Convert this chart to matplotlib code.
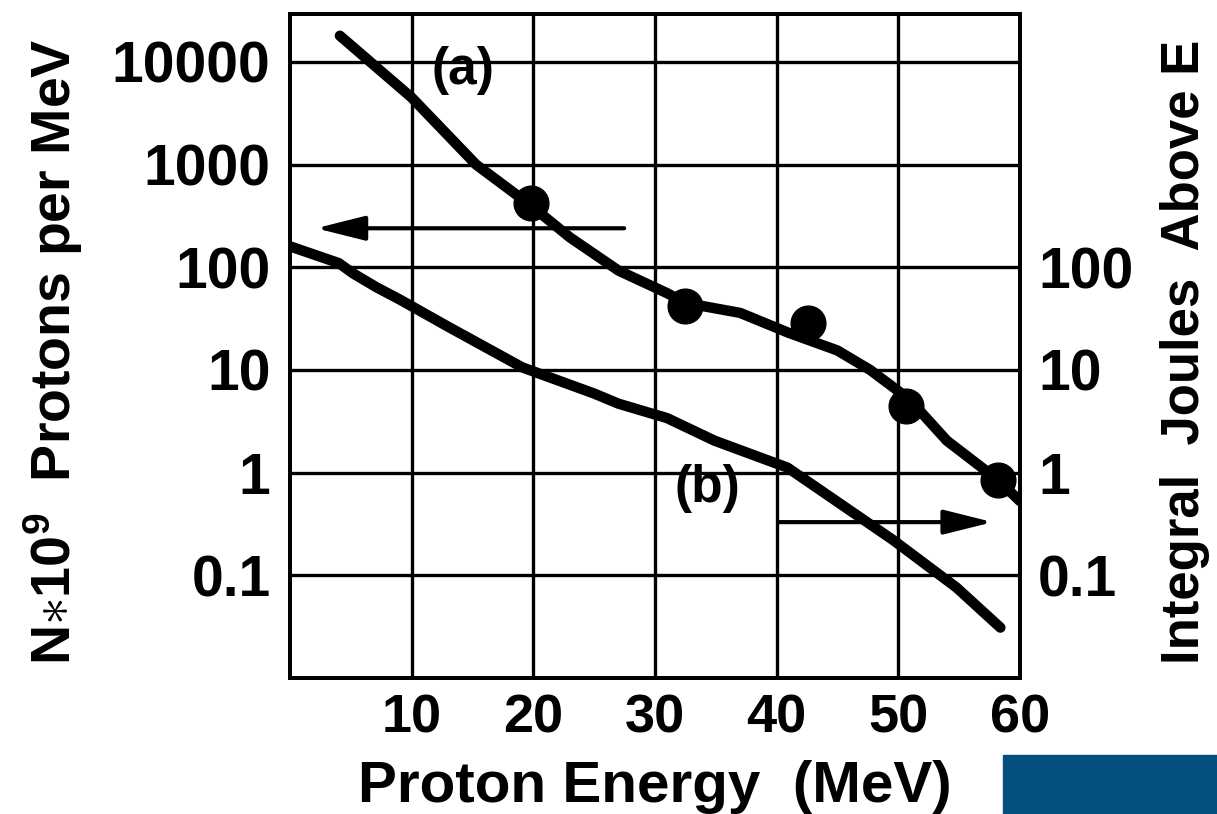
import matplotlib.pyplot as plt
import matplotlib.patches as mpatches

plt.rcParams['font.family'] = ['Liberation Sans', 'DejaVu Sans']
plt.rcParams['font.weight'] = 'bold'
plt.rcParams['mathtext.fontset'] = 'custom'
plt.rcParams['mathtext.rm'] = 'Liberation Sans:bold'
plt.rcParams['mathtext.it'] = 'Liberation Sans:bold'
plt.rcParams['mathtext.bf'] = 'Liberation Sans:bold'

# curve (a): protons per MeV (left axis)
energy_a = [4.1, 10, 15.3, 19.8, 23, 27, 31, 32.5, 37, 41, 45, 47.7, 50.9, 54, 58.2, 60]
protons_a = [18000, 4500, 1000, 400, 196, 93, 56, 45, 36, 23, 15.5, 10, 5.2, 2.05, 0.85, 0.53]

# measured points on curve (a)
point_energy = [19.8, 32.5, 42.6, 50.6, 58.2]
point_protons = [420, 42, 29, 4.5, 0.85]

# curve (b): integral joules above E (right axis)
energy_b = [0, 4.0, 5.2, 7.1, 9.1, 13.1, 19.1, 25, 27, 31, 34.9, 40.9, 44.9, 49.6, 54.8, 58.4]
joules_b = [160, 110, 87, 64, 48, 26, 10.6, 5.9, 4.7, 3.4, 2.05, 1.12, 0.53, 0.22, 0.076, 0.031]

x_ticks = [10, 20, 30, 40, 50, 60]
left_ticks = [10000, 1000, 100, 10, 1, 0.1]
left_labels = ['10000', '1000', '100', '10', '1', '0.1']
right_ticks = [100, 10, 1, 0.1]
right_labels = ['100', '10', '1', '0.1']

fig = plt.figure(figsize=(12.17, 8.14), dpi=100)
ax = fig.add_axes([0.2383, 0.167, 0.5997, 0.816])
ax.set_yscale('log')
ax.set_xlim(0, 60)
ax.set_ylim(0.01, 29400)

# grid
for xv in x_ticks[:-1]:
    ax.axvline(xv, color='black', lw=2.4, zorder=1)
for yv in left_ticks:
    ax.axhline(yv, color='black', lw=2.4, zorder=1)

ax.plot(energy_a, protons_a, color='black', lw=7.5, solid_capstyle='round', zorder=3)
ax.plot(energy_b, joules_b, color='black', lw=7.5, solid_capstyle='round', zorder=3)
ax.plot(point_energy, point_protons, 'o', color='black', ms=25, zorder=4)

# axis arrows
arrow_style = dict(arrowstyle='-|>,head_length=3.0,head_width=0.75', color='black', lw=3)
ax.annotate('', xy=(1.9, 240), xytext=(27.7, 240), arrowprops=arrow_style)
ax.annotate('', xy=(58.0, 0.33), xytext=(39.9, 0.33), arrowprops=arrow_style)

ax.text(14.2, 8300, '(a)', fontsize=37, fontweight='bold', ha='center', va='center')
ax.text(34.3, 0.7, '(b)', fontsize=37, fontweight='bold', ha='center', va='center')

for s in ax.spines.values():
    s.set_linewidth(2.8)

ax.set_xticks(x_ticks)
ax.set_xticklabels([str(v) for v in x_ticks], fontsize=39, fontweight='bold')
ax.set_yticks(left_ticks)
ax.set_yticklabels(left_labels, fontsize=41, fontweight='bold')
ax.minorticks_off()
ax.tick_params(axis='x', length=0, pad=11)
ax.tick_params(axis='y', length=0, pad=14)
ax.set_xlabel('Proton Energy  (MeV)', fontsize=42, fontweight='bold', labelpad=12)
ax.set_ylabel(r'N$\ast$10$^{9}$  Protons per MeV', fontsize=40, fontweight='bold')
ax.yaxis.set_label_coords(-0.281, 0.491)

ax2 = ax.twinx()
ax2.set_yscale('log')
ax2.set_ylim(ax.get_ylim())
ax2.set_yticks(right_ticks)
ax2.set_yticklabels(right_labels, fontsize=41, fontweight='bold')
ax2.minorticks_off()
ax2.tick_params(axis='y', length=0, pad=13)
ax2.set_ylabel('Integral  Joules  Above E', fontsize=38, fontweight='bold', rotation=90)
ax2.yaxis.set_label_coords(1.192, 0.491)
for s in ax2.spines.values():
    s.set_linewidth(2.8)

# blue block bottom right
fig.patches.append(mpatches.Rectangle((1003 / 1217, 0), 214 / 1217, 59 / 814,
                                      transform=fig.transFigure, color='#03507e'))

fig.savefig('out.png', dpi=100)
